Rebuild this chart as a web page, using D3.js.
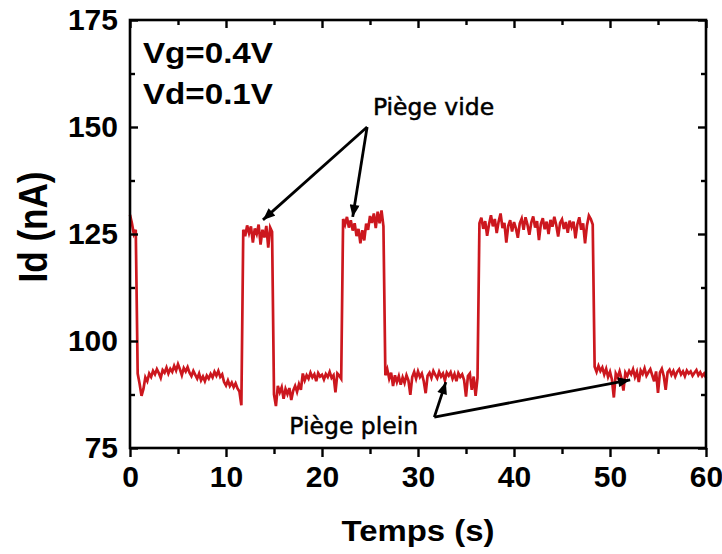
<!DOCTYPE html>
<html>
  <head>
    <title>Id vs Temps</title>
    <script src="https://cdn.jsdelivr.net/npm/d3@7"></script>
  </head>
  <body style="margin: 0; background-color: #ffffff;">
    <svg width="722" height="554" id="mainsvg"></svg>
    <script>
        const dt = 0.2;
        const segStart = [0, 0.8, 11.8, 15.0, 22.2, 26.6, 36.4, 48.4];
        const start0 = [129.5, 127.5, 125.0, 126.0];
        const low1 = [92.4, 90.0, 87.2, 88.8, 91.5, 90.6, 92.4, 91.6, 93.0, 92.2,
                      93.4, 92.5, 91.4, 93.2, 92.6, 93.8, 92.4, 93.5, 92.8, 94.2,
                      93.1, 94.6, 93.4, 92.0, 93.7, 92.9, 93.9, 92.6, 91.8, 93.0,
                      92.1, 91.2, 92.4, 90.8, 91.7, 90.6, 91.9, 91.2, 92.3, 91.5,
                      92.8, 91.9, 93.0, 91.6, 92.2, 90.4, 89.6, 90.8, 89.5, 90.3,
                      89.2, 90.1, 88.9, 88.2, 85.0];
        const high1 = [126.0, 124.5, 127.0, 125.2, 126.8, 123.0, 126.3, 125.0, 127.2, 122.5,
                       126.0, 124.2, 126.9, 121.8, 126.5, 125.5];
        const low2 = [87.5, 84.8, 89.5, 88.0, 89.2, 86.5, 88.8, 87.6, 89.0, 86.2,
                      88.4, 89.5, 88.1, 89.9, 88.6, 92.4, 90.8, 92.0, 91.2, 92.6,
                      91.5, 92.2, 90.6, 92.5, 91.7, 92.1, 91.0, 92.3, 91.6, 92.8,
                      91.4, 92.0, 88.0, 92.4, 91.9, 91.2];
        const high2 = [128.5, 127.2, 129.0, 126.5, 128.2, 125.8, 127.5, 124.5, 126.2, 122.8,
                       125.9, 123.5, 127.4, 126.0, 129.2, 127.6, 129.8, 126.4, 130.2, 127.5,
                       130.5, 126.8];
        const low3 = [92.0, 93.4, 91.2, 92.6, 89.5, 92.0, 90.4, 91.8, 89.8, 91.5,
                      90.2, 92.0, 90.8, 87.4, 91.6, 92.8, 91.2, 92.9, 91.6, 92.4,
                      90.6, 87.8, 91.9, 92.6, 91.4, 93.0, 92.1, 91.3, 92.8, 91.7,
                      92.4, 90.8, 92.6, 91.9, 92.7, 91.2, 92.3, 90.6, 92.5, 91.6,
                      92.2, 90.9, 87.0, 91.8, 92.4, 88.6, 91.7, 87.2, 91.4];
        const high3 = [127.5, 128.8, 126.2, 128.0, 124.6, 127.3, 129.4, 126.8, 128.5, 125.2,
                       127.9, 129.8, 126.4, 127.6, 123.0, 126.9, 128.2, 125.6, 127.8, 126.3,
                       124.1, 127.5, 128.6, 126.0, 128.9, 127.2, 124.8, 127.7, 129.1, 126.5,
                       128.0, 123.6, 127.4, 128.7, 126.1, 127.9, 125.0, 128.3, 126.7, 129.0,
                       127.1, 124.4, 127.6, 128.4, 126.2, 127.8, 125.3, 128.1, 126.6, 127.9,
                       124.0, 127.3, 128.9, 126.0, 127.5, 122.8, 127.0, 129.3, 128.5, 127.2];
        const low4 = [94.0, 92.8, 94.2, 93.0, 93.8, 92.2, 93.5, 91.6, 92.8, 91.0,
                      86.8, 92.4, 91.5, 92.9, 91.2, 88.4, 92.6, 91.8, 93.0, 92.2,
                      93.4, 91.6, 92.8, 90.4, 93.1, 92.3, 93.6, 91.9, 92.7, 93.4,
                      92.0, 90.6, 92.9, 87.9, 92.6, 93.5, 91.8, 88.6, 92.7, 93.3,
                      92.1, 93.0, 91.7, 92.8, 93.4, 92.2, 92.9, 91.8, 93.1, 92.4,
                      92.9, 91.9, 92.6, 93.2, 92.0, 92.7, 91.8, 92.4, 91.4];
        const segments = [start0, low1, high1, low2, high2, low3, high3, low4];

        const xTicks = [0, 10, 20, 30, 40, 50, 60];
        const xMinor = [5, 15, 25, 35, 45, 55];
        const yTicks = [75, 100, 125, 150, 175];
        const yMinor = [87.5, 112.5, 137.5, 162.5];

        const svg = d3.select('#mainsvg');
        const margin = {top: 20, right: 16, bottom: 106, left: 130};
        const width = +svg.attr('width');
        const height = +svg.attr('height');
        const innerWidth = width - margin.left - margin.right;
        const innerHeight = height - margin.top - margin.bottom;
        const boldFont = '"Liberation Sans", Arial, sans-serif';

        const xScale = d3.scaleLinear().domain([0, 60]).range([0, innerWidth]);
        const yScale = d3.scaleLinear().domain([75, 175]).range([innerHeight, 0]);

        // flatten segments to (t, Id) points
        let trace = [];
        segments.forEach((seg, s) => {
            seg.forEach((v, j) => {
                trace.push({t: segStart[s] + j * dt, v: v});
            });
        });

        const defs = svg.append('defs');
        defs.append('marker')
            .attr('id', 'arrow')
            .attr('markerUnits', 'userSpaceOnUse')
            .attr('viewBox', '0 0 12 10')
            .attr('refX', 12).attr('refY', 5)
            .attr('markerWidth', 13).attr('markerHeight', 10)
            .attr('orient', 'auto')
            .append('path')
            .attr('d', 'M0,0 L12,5 L0,10 Z')
            .attr('fill', '#000');

        const g = svg.append('g')
            .attr('transform', `translate(${margin.left}, ${margin.top})`);

        // the curve
        const line = d3.line()
            .x(d => xScale(d.t))
            .y(d => yScale(d.v));
        g.append('path')
            .datum(trace)
            .attr('d', line)
            .attr('fill', 'none')
            .attr('stroke', '#cc171e')
            .attr('stroke-width', 2.7)
            .attr('stroke-linejoin', 'miter');

        // axes: left/top/right ticks inside, bottom ticks outside
        const styleAxis = function(sel){
            sel.selectAll('.domain').remove();
            sel.selectAll('.tick line').attr('stroke', '#000').attr('stroke-width', 2.4);
            sel.selectAll('.tick text')
                .attr('fill', '#000')
                .style('font-family', boldFont)
                .style('font-weight', 'bold')
                .style('font-size', '30px');
        };

        g.append('g').call(d3.axisLeft(yScale).tickValues(yTicks).tickSize(-8).tickPadding(12)
            .tickFormat(d3.format('d'))).call(styleAxis);
        g.append('g').call(d3.axisLeft(yScale).tickValues(yMinor).tickSize(-5).tickFormat('')).call(styleAxis);

        g.append('g').attr('transform', `translate(${innerWidth}, 0)`)
            .call(d3.axisRight(yScale).tickValues(yTicks).tickSize(-8).tickFormat('')).call(styleAxis);
        g.append('g').attr('transform', `translate(${innerWidth}, 0)`)
            .call(d3.axisRight(yScale).tickValues(yMinor).tickSize(-5).tickFormat('')).call(styleAxis);

        g.append('g').attr('transform', `translate(0, ${innerHeight})`)
            .call(d3.axisBottom(xScale).tickValues(xTicks).tickSize(9).tickPadding(9)
            .tickFormat(d3.format('d'))).call(styleAxis);
        g.append('g').attr('transform', `translate(0, ${innerHeight})`)
            .call(d3.axisBottom(xScale).tickValues(xMinor).tickSize(6).tickFormat('')).call(styleAxis);

        g.append('g').call(d3.axisTop(xScale).tickValues(xTicks).tickSize(-8).tickFormat('')).call(styleAxis);
        g.append('g').call(d3.axisTop(xScale).tickValues(xMinor).tickSize(-5).tickFormat('')).call(styleAxis);

        // frame
        g.append('rect')
            .attr('width', innerWidth)
            .attr('height', innerHeight)
            .attr('fill', 'none')
            .attr('stroke', '#000')
            .attr('stroke-width', 2.6);

        // axis titles
        g.append('text')
            .attr('x', innerWidth / 2)
            .attr('y', innerHeight + 93)
            .attr('text-anchor', 'middle')
            .attr('textLength', 153)
            .attr('lengthAdjust', 'spacingAndGlyphs')
            .style('font-family', boldFont)
            .style('font-weight', 'bold')
            .style('font-size', '29px')
            .text('Temps (s)');

        g.append('text')
            .attr('transform', `translate(${-83}, ${innerHeight / 2 - 7}) rotate(-90)`)
            .attr('text-anchor', 'middle')
            .attr('textLength', 111)
            .attr('lengthAdjust', 'spacingAndGlyphs')
            .style('font-family', boldFont)
            .style('font-weight', 'bold')
            .style('font-size', '40px')
            .text('Id (nA)');

        // bias conditions
        const conds = ['Vg=0.4V', 'Vd=0.1V'];
        g.selectAll('.cond').data(conds).enter().append('text')
            .attr('class', 'cond')
            .attr('x', xScale(1.35))
            .attr('y', (d, i) => yScale(i === 0 ? 165 : 155.4))
            .attr('textLength', 130)
            .attr('lengthAdjust', 'spacingAndGlyphs')
            .style('font-family', boldFont)
            .style('font-weight', 'bold')
            .style('font-size', '30px')
            .text(d => d);

        // annotations, in data coordinates
        const notes = [
            {label: 'Piège vide', t: 25.3, v: 152.8, from: [24.7, 150.0], to: [[13.85, 128.3], [23.2, 129.0]]},
            {label: 'Piège plein', t: 16.6, v: 78.3, from: [31.7, 82.2], to: [[32.9, 90.4], [52.1, 90.9]]}
        ];
        notes.forEach(n => {
            g.append('text')
                .attr('x', xScale(n.t))
                .attr('y', yScale(n.v))
                .style('font-family', '"DejaVu Sans", Verdana, sans-serif')
                .style('font-size', '23.5px')
                .attr('fill', '#000')
                .attr('stroke', '#000')
                .attr('stroke-width', 0.5)
                .text(n.label);
            n.to.forEach(p => {
                g.append('line')
                    .attr('x1', xScale(n.from[0])).attr('y1', yScale(n.from[1]))
                    .attr('x2', xScale(p[0])).attr('y2', yScale(p[1]))
                    .attr('stroke', '#000')
                    .attr('stroke-width', 2.8)
                    .attr('marker-end', 'url(#arrow)');
            });
        });
    </script>
  </body>
</html>
